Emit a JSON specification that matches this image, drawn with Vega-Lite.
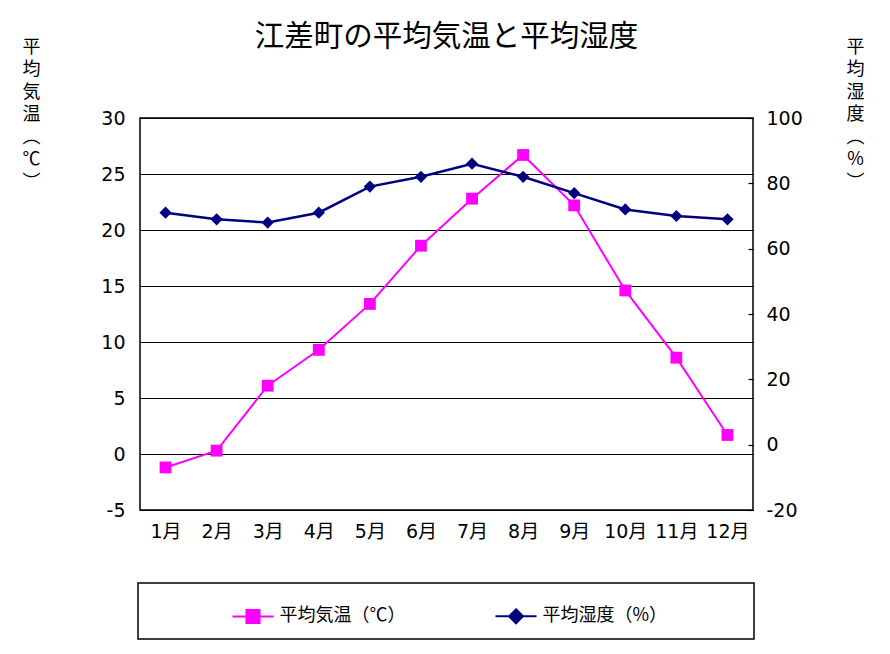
{
  "$schema": "https://vega.github.io/schema/vega-lite/v6.json",
  "width": 613,
  "height": 392,
  "autosize": {"type": "none"},
  "padding": {"left": 140, "top": 118, "right": 137, "bottom": 144},
  "background": "white",
  "title": {
    "text": "江差町の平均気温と平均湿度",
    "font": "Noto Sans CJK JP",
    "fontSize": 29.5,
    "fontWeight": "normal",
    "color": "black",
    "anchor": "middle",
    "frame": "group",
    "baseline": "bottom",
    "offset": -43
  },
  "data": {
    "values": [
      {"month": "1月", "series": "平均気温（℃）", "value": -1.2},
      {"month": "2月", "series": "平均気温（℃）", "value": 0.3},
      {"month": "3月", "series": "平均気温（℃）", "value": 6.1},
      {"month": "4月", "series": "平均気温（℃）", "value": 9.3},
      {"month": "5月", "series": "平均気温（℃）", "value": 13.4},
      {"month": "6月", "series": "平均気温（℃）", "value": 18.6},
      {"month": "7月", "series": "平均気温（℃）", "value": 22.8},
      {"month": "8月", "series": "平均気温（℃）", "value": 26.7},
      {"month": "9月", "series": "平均気温（℃）", "value": 22.2},
      {"month": "10月", "series": "平均気温（℃）", "value": 14.6},
      {"month": "11月", "series": "平均気温（℃）", "value": 8.6},
      {"month": "12月", "series": "平均気温（℃）", "value": 1.7},
      {"month": "1月", "series": "平均湿度（%）", "value": 71},
      {"month": "2月", "series": "平均湿度（%）", "value": 69},
      {"month": "3月", "series": "平均湿度（%）", "value": 68},
      {"month": "4月", "series": "平均湿度（%）", "value": 71},
      {"month": "5月", "series": "平均湿度（%）", "value": 79},
      {"month": "6月", "series": "平均湿度（%）", "value": 82},
      {"month": "7月", "series": "平均湿度（%）", "value": 86},
      {"month": "8月", "series": "平均湿度（%）", "value": 82},
      {"month": "9月", "series": "平均湿度（%）", "value": 77},
      {"month": "10月", "series": "平均湿度（%）", "value": 72},
      {"month": "11月", "series": "平均湿度（%）", "value": 70},
      {"month": "12月", "series": "平均湿度（%）", "value": 69}
    ]
  },
  "encoding": {
    "x": {
      "field": "month",
      "type": "ordinal",
      "sort": ["1月","2月","3月","4月","5月","6月","7月","8月","9月","10月","11月","12月"],
      "scale": {"type": "point", "padding": 0.5},
      "axis": {
        "title": null,
        "orient": "bottom",
        "ticks": false,
        "domain": false,
        "labelAngle": 0,
        "labelFont": "DejaVu Sans, Noto Sans CJK JP",
        "labelFontSize": 19,
        "labelColor": "black",
        "labelPadding": 12
      }
    },
    "color": {
      "field": "series",
      "type": "nominal",
      "scale": {"domain": ["平均気温（℃）", "平均湿度（%）"], "range": ["#ff00ff", "#000080"]},
      "legend": {
        "orient": "none",
        "legendX": -2,
        "legendY": 465,
        "direction": "horizontal",
        "columns": 2,
        "columnPadding": 86,
        "title": "\u00a0",
        "titleOrient": "left",
        "titleFontSize": 1,
        "titlePadding": 82,
        "padding": 11.5,
        "strokeColor": "black",
        "fillColor": "white",
        "symbolSize": 1681,
        "symbolStrokeWidth": 2,
        "labelFont": "Noto Sans CJK JP",
        "labelFontSize": 18,
        "labelOffset": 5,
        "labelLimit": 400,
        "labelColor": "black",
        "labelExpr": "datum.label === '平均湿度（%）' ? datum.label + '\u3000\u3000\u3000\u3000   \u200b' : datum.label",
        "encode": {
          "legend": {"update": {"strokeWidth": {"value": 1.5}}},
          "symbols": {
            "update": {
              "shape": {"signal": "datum.value === '平均気温（℃）' ? 'M-1,0H1M-0.32,-0.32H0.32V0.32H-0.32Z' : 'M-1,0H1M0,-0.34L0.34,0L0,0.34L-0.34,0Z'"},
              "fill": {"signal": "datum.value === '平均気温（℃）' ? '#ff00ff' : '#000080'"},
              "stroke": {"signal": "datum.value === '平均気温（℃）' ? '#ff00ff' : '#000080'"},
              "opacity": {"value": 1}
            }
          }
        }
      }
    }
  },
  "layer": [
    {
      "transform": [{"filter": "datum.series === '平均気温（℃）'"}],
      "mark": {"type": "line", "strokeWidth": 2, "point": {"shape": "square", "size": 140, "filled": true, "opacity": 1}},
      "encoding": {
        "y": {
          "field": "value",
          "type": "quantitative",
          "scale": {"domain": [-5, 30], "nice": false, "zero": false},
          "axis": {
            "orient": "left",
            "values": [-5, 0, 5, 10, 15, 20, 25, 30],
            "labelExpr": "'' + datum.value",
            "grid": true,
            "gridColor": "black",
            "gridOpacity": 1,
            "gridWidth": 1.2,
            "ticks": false,
            "domain": false,
            "labelFont": "DejaVu Sans",
            "labelFontSize": 19,
            "labelColor": "black",
            "labelPadding": 15,
            "title": ["平", "均", "気", "温", "︵", "℃", "︶"],
            "titleAngle": 0,
            "titleX": -109,
            "titleY": -80,
            "titleAlign": "center",
            "titleBaseline": "top",
            "titleFont": "Noto Sans CJK JP",
            "titleFontSize": 18,
            "titleFontWeight": "normal",
            "titleLineHeight": 22.5,
            "titleColor": "black"
          }
        }
      }
    },
    {
      "transform": [{"filter": "datum.series === '平均湿度（%）'"}],
      "mark": {"type": "line", "strokeWidth": 2.5, "point": {"shape": "diamond", "size": 150, "filled": true, "opacity": 1}},
      "encoding": {
        "y": {
          "field": "value",
          "type": "quantitative",
          "scale": {"domain": [-20, 100], "nice": false, "zero": false},
          "axis": {
            "orient": "right",
            "values": [-20, 0, 20, 40, 60, 80, 100],
            "labelExpr": "'' + datum.value",
            "grid": false,
            "ticks": true,
            "tickSize": -5,
            "tickColor": "black",
            "tickWidth": 1.2,
            "domain": false,
            "labelFont": "DejaVu Sans",
            "labelFontSize": 19,
            "labelColor": "black",
            "labelPadding": 18,
            "title": ["平", "均", "湿", "度", "︵", "%", "︶"],
            "titleAngle": 0,
            "titleX": 102,
            "titleY": -80,
            "titleAlign": "center",
            "titleBaseline": "top",
            "titleFont": "Noto Sans CJK JP",
            "titleFontSize": 18,
            "titleFontWeight": "normal",
            "titleLineHeight": 22.5,
            "titleColor": "black"
          }
        }
      }
    }
  ],
  "resolve": {"scale": {"y": "independent"}},
  "config": {
    "view": {"stroke": "black", "strokeWidth": 1.5}
  }
}
